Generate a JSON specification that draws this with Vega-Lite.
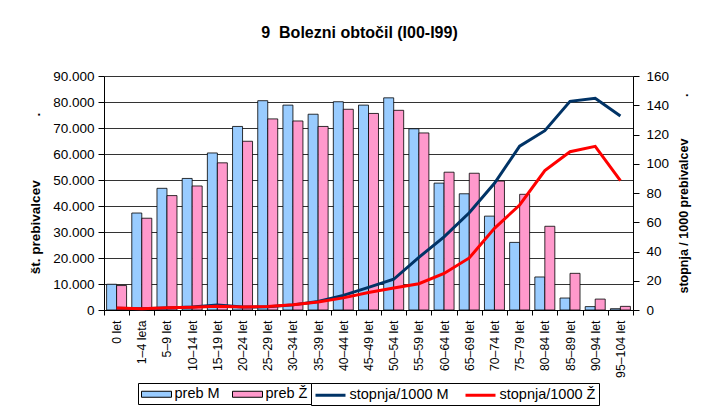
{
  "$schema": "https://vega.github.io/schema/vega-lite/v6.json",
  "width": 529,
  "height": 234,
  "autosize": {"type": "none"},
  "padding": {"left": 104, "top": 76, "right": 77, "bottom": 104},
  "background": "white",
  "title": {
    "text": "9\u00a0 Bolezni obtočil (I00-I99)",
    "font": "Liberation Sans",
    "fontSize": 16,
    "fontWeight": "bold",
    "color": "#000",
    "offset": 28,
    "dx": -9
  },
  "config": {
    "view": {"stroke": null},
    "font": "Liberation Sans",
    "axis": {"labelFont": "Liberation Sans", "titleFont": "Liberation Sans", "labelColor": "#000", "titleColor": "#000", "domainColor": "#000", "tickColor": "#000"},
    "legend": {
      "orient": "bottom",
      "direction": "horizontal",
      "offset": 5,
      "padding": 3,
      "labelFont": "Liberation Sans",
      "labelFontSize": 14.5,
      "labelColor": "#000",
      "labelOffset": 10,
      "columnPadding": 10,
      "symbolSize": 225,
      "symbolOffset": 7.5,
      "layout": {"bottom": {"anchor": "middle", "margin": 0}}
    }
  },
  "data": {
    "values": [
      {"age": "0 let", "bar": "preb M", "line": "stopnja/1000 M", "preb": 9900, "rate": 1.2},
      {"age": "0 let", "bar": "preb Ž", "line": "stopnja/1000 Ž", "preb": 9400, "rate": 1.4},
      {"age": "1–4 leta", "bar": "preb M", "line": "stopnja/1000 M", "preb": 37300, "rate": 0.8},
      {"age": "1–4 leta", "bar": "preb Ž", "line": "stopnja/1000 Ž", "preb": 35300, "rate": 0.9},
      {"age": "5–9 let", "bar": "preb M", "line": "stopnja/1000 M", "preb": 46800, "rate": 1.3},
      {"age": "5–9 let", "bar": "preb Ž", "line": "stopnja/1000 Ž", "preb": 44000, "rate": 1.5},
      {"age": "10–14 let", "bar": "preb M", "line": "stopnja/1000 M", "preb": 50600, "rate": 2.0},
      {"age": "10–14 let", "bar": "preb Ž", "line": "stopnja/1000 Ž", "preb": 47700, "rate": 1.9},
      {"age": "15–19 let", "bar": "preb M", "line": "stopnja/1000 M", "preb": 60400, "rate": 3.5},
      {"age": "15–19 let", "bar": "preb Ž", "line": "stopnja/1000 Ž", "preb": 56600, "rate": 2.6},
      {"age": "20–24 let", "bar": "preb M", "line": "stopnja/1000 M", "preb": 70600, "rate": 2.0},
      {"age": "20–24 let", "bar": "preb Ž", "line": "stopnja/1000 Ž", "preb": 64900, "rate": 2.0},
      {"age": "25–29 let", "bar": "preb M", "line": "stopnja/1000 M", "preb": 80500, "rate": 2.2},
      {"age": "25–29 let", "bar": "preb Ž", "line": "stopnja/1000 Ž", "preb": 73500, "rate": 2.4},
      {"age": "30–34 let", "bar": "preb M", "line": "stopnja/1000 M", "preb": 78800, "rate": 3.5},
      {"age": "30–34 let", "bar": "preb Ž", "line": "stopnja/1000 Ž", "preb": 72700, "rate": 3.6},
      {"age": "35–39 let", "bar": "preb M", "line": "stopnja/1000 M", "preb": 75300, "rate": 5.8},
      {"age": "35–39 let", "bar": "preb Ž", "line": "stopnja/1000 Ž", "preb": 70600, "rate": 5.5},
      {"age": "40–44 let", "bar": "preb M", "line": "stopnja/1000 M", "preb": 80100, "rate": 10},
      {"age": "40–44 let", "bar": "preb Ž", "line": "stopnja/1000 Ž", "preb": 77200, "rate": 8.3},
      {"age": "45–49 let", "bar": "preb M", "line": "stopnja/1000 M", "preb": 78800, "rate": 15.5},
      {"age": "45–49 let", "bar": "preb Ž", "line": "stopnja/1000 Ž", "preb": 75600, "rate": 12},
      {"age": "50–54 let", "bar": "preb M", "line": "stopnja/1000 M", "preb": 81600, "rate": 21},
      {"age": "50–54 let", "bar": "preb Ž", "line": "stopnja/1000 Ž", "preb": 76800, "rate": 15},
      {"age": "55–59 let", "bar": "preb M", "line": "stopnja/1000 M", "preb": 69700, "rate": 36},
      {"age": "55–59 let", "bar": "preb Ž", "line": "stopnja/1000 Ž", "preb": 68100, "rate": 18},
      {"age": "60–64 let", "bar": "preb M", "line": "stopnja/1000 M", "preb": 48800, "rate": 50},
      {"age": "60–64 let", "bar": "preb Ž", "line": "stopnja/1000 Ž", "preb": 53000, "rate": 25},
      {"age": "65–69 let", "bar": "preb M", "line": "stopnja/1000 M", "preb": 44700, "rate": 66.5},
      {"age": "65–69 let", "bar": "preb Ž", "line": "stopnja/1000 Ž", "preb": 52600, "rate": 35.6},
      {"age": "70–74 let", "bar": "preb M", "line": "stopnja/1000 M", "preb": 36100, "rate": 86.6},
      {"age": "70–74 let", "bar": "preb Ž", "line": "stopnja/1000 Ž", "preb": 49600, "rate": 55.8},
      {"age": "75–79 let", "bar": "preb M", "line": "stopnja/1000 M", "preb": 26000, "rate": 112},
      {"age": "75–79 let", "bar": "preb Ž", "line": "stopnja/1000 Ž", "preb": 44500, "rate": 71.8},
      {"age": "80–84 let", "bar": "preb M", "line": "stopnja/1000 M", "preb": 12700, "rate": 122.6},
      {"age": "80–84 let", "bar": "preb Ž", "line": "stopnja/1000 Ž", "preb": 32200, "rate": 95.3},
      {"age": "85–89 let", "bar": "preb M", "line": "stopnja/1000 M", "preb": 4600, "rate": 142.7},
      {"age": "85–89 let", "bar": "preb Ž", "line": "stopnja/1000 Ž", "preb": 14100, "rate": 108.2},
      {"age": "90–94 let", "bar": "preb M", "line": "stopnja/1000 M", "preb": 1300, "rate": 144.7},
      {"age": "90–94 let", "bar": "preb Ž", "line": "stopnja/1000 Ž", "preb": 4200, "rate": 111.9},
      {"age": "95–104 let", "bar": "preb M", "line": "stopnja/1000 M", "preb": 500, "rate": 132.6},
      {"age": "95–104 let", "bar": "preb Ž", "line": "stopnja/1000 Ž", "preb": 1400, "rate": 88.4}
    ]
  },
  "encoding": {
    "x": {
      "field": "age",
      "type": "nominal",
      "sort": null,
      "scale": {"paddingInner": 0, "paddingOuter": 0},
      "axis": {
        "title": null,
        "labelAngle": 270,
        "labelAlign": "right",
        "labelBaseline": "middle",
        "labelFontSize": 12.3,
        "labelPadding": 5,
        "tickSize": 5,
        "tickBand": "extent",
        "grid": false
      }
    }
  },
  "layer": [
    {
      "mark": {"type": "bar", "stroke": "#000", "strokeWidth": 0.8},
      "encoding": {
        "xOffset": {"field": "bar", "type": "nominal", "scale": {"paddingInner": 0, "paddingOuter": 0.26}},
        "y": {
          "field": "preb",
          "type": "quantitative",
          "scale": {"domain": [0, 90000], "nice": false},
          "axis": {
            "title": "št. prebivalcev\u00a0\u00a0\u00a0\u00a0\u00a0\u00a0\u00a0\u00a0\u00a0\u00a0\u00a0\u00a0\u00a0\u00a0\u00a0\u00a0\u00a0.",
            "titleFontSize": 13.5,
            "titleFontWeight": "bold",
            "titlePadding": 10,
            "values": [0, 10000, 20000, 30000, 40000, 50000, 60000, 70000, 80000, 90000],
            "labelExpr": "replace(format(datum.value, ','), ',', '.')",
            "labelFontSize": 13.5,
            "labelPadding": 4,
            "tickSize": 6,
            "grid": true,
            "gridColor": "#333",
            "gridWidth": 1
          }
        },
        "fill": {
          "field": "bar",
          "type": "nominal",
          "scale": {"domain": ["preb M", "preb Ž"], "range": ["#99CCFF", "#FF99CC"]},
          "legend": {
            "title": null,
            "symbolType": "M-2,-0.4H2V0.4H-2Z",
            "symbolStrokeColor": "#000",
            "symbolStrokeWidth": 1,
            "strokeColor": "#000"
          }
        }
      }
    },
    {
      "mark": {"type": "line", "strokeWidth": 3},
      "encoding": {
        "y": {
          "field": "rate",
          "type": "quantitative",
          "scale": {"domain": [0, 160], "nice": false},
          "axis": {
            "orient": "right",
            "title": "stopnja / 1000 prebivalcev\u00a0\u00a0\u00a0\u00a0\u00a0\u00a0\u00a0\u00a0\u00a0\u00a0\u00a0\u00a0.",
            "titleAngle": 270,
            "titleBaseline": "top",
            "titleFontSize": 12.5,
            "titleFontWeight": "bold",
            "titlePadding": 9,
            "values": [0, 20, 40, 60, 80, 100, 120, 140, 160],
            "labelFontSize": 13.5,
            "labelPadding": 7,
            "tickSize": 6,
            "grid": false
          }
        },
        "stroke": {
          "field": "line",
          "type": "nominal",
          "scale": {"domain": ["stopnja/1000 M", "stopnja/1000 Ž"], "range": ["#003366", "#FF0000"]},
          "legend": {
            "title": null,
            "symbolType": "M-2,0H2",
            "symbolStrokeWidth": 3,
            "strokeColor": "#000"
          }
        }
      }
    }
  ],
  "resolve": {"scale": {"y": "independent"}}
}
